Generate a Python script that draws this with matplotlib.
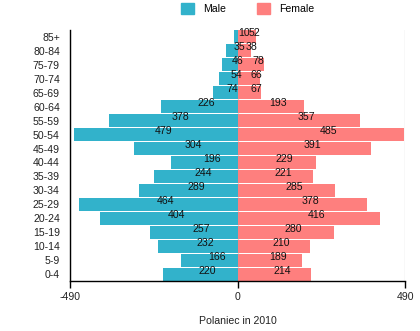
import matplotlib
matplotlib.use("Agg")
import matplotlib.pyplot as plt
from matplotlib.patches import Patch

plt.rcParams['font.family'] = ['Liberation Sans', 'DejaVu Sans']

age_groups = ["0-4", "5-9", "10-14", "15-19", "20-24", "25-29", "30-34", "35-39",
              "40-44", "45-49", "50-54", "55-59", "60-64", "65-69", "70-74",
              "75-79", "80-84", "85+"]
male = [220, 166, 232, 257, 404, 464, 289, 244, 196, 304, 479, 378, 226, 74, 54, 46, 35, 10]
female = [214, 189, 210, 280, 416, 378, 285, 221, 229, 391, 485, 357, 193, 67, 66, 78, 38, 52]
x_ticks = [-490, 0, 490]
x_tick_labels = ["-490", "0", "490"]
title = "Polaniec in 2010"

male_color = "#32b2cb"
female_color = "#fe7f7e"

W, H = 420, 331
fig = plt.figure(figsize=(W / 100, H / 100), dpi=100)
ax = fig.add_axes([70.3 / W, 1 - 281 / H, (405.3 - 70.3) / W, (281 - 30) / H])

y = list(range(len(age_groups)))
ax.barh(y, [-v for v in male], height=0.93, color=male_color, zorder=2)
ax.barh(y, female, height=0.93, color=female_color, zorder=2)

for xv in x_ticks:
    ax.axvline(xv, color="#dddddd", lw=1, zorder=0)

fs = 7.6
off = 22
for i, (m, f) in enumerate(zip(male, female)):
    ax.text(-m / 2 + off, i + 0.25, str(m), ha="center", va="center",
            fontsize=fs, color="#111111", zorder=3)
    ax.text(f / 2 + off, i + 0.25, str(f), ha="center", va="center",
            fontsize=fs, color="#111111", zorder=3)

ax.set_xlim(-490, 490)
ax.set_ylim(-0.5, len(age_groups) - 0.5)
ax.set_yticks(y)
ax.set_yticklabels(age_groups, fontsize=fs, color="#222222")
ax.set_xticks(x_ticks)
ax.set_xticklabels(x_tick_labels, fontsize=fs, color="#222222")
ax.tick_params(axis="y", length=0, pad=7.5)
ax.tick_params(axis="x", length=5, width=1, pad=3, color="black")

for s in ("top", "right"):
    ax.spines[s].set_visible(False)
for s in ("left", "bottom"):
    ax.spines[s].set_color("black")
    ax.spines[s].set_linewidth(1)

ax.set_xlabel(title, fontsize=fs, color="#222222", labelpad=10)

handles = [Patch(color=male_color, label="Male"), Patch(color=female_color, label="Female")]
fig.legend(handles=handles, loc="center", bbox_to_anchor=(247.5 / W, 1 - 8.5 / H),
           ncol=2, frameon=False, fontsize=fs, handlelength=1.23, handleheight=1.23,
           handletextpad=0.85, columnspacing=2.9, borderpad=0, borderaxespad=0)

fig.savefig("out.png", dpi=100)
